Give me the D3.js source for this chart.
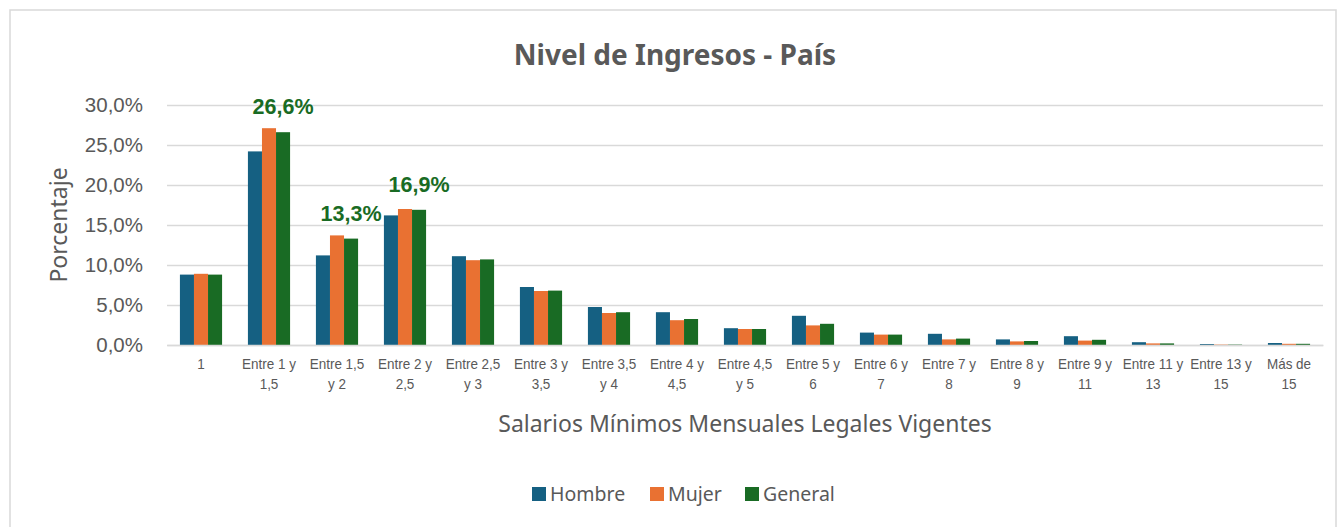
<!DOCTYPE html>
<html>
<head>
<meta charset="utf-8">
<script src="https://cdn.jsdelivr.net/npm/d3@7"></script>
<style>
  body { margin: 0; background: #fff; }
  svg { display: block; }
</style>
</head>
<body>
<div id="chart"></div>
<script>
// categorías del eje x (en dos líneas, como en el original)
const categories = [
  "1", "Entre 1 y 1,5", "Entre 1,5 y 2", "Entre 2 y 2,5", "Entre 2,5 y 3",
  "Entre 3 y 3,5", "Entre 3,5 y 4", "Entre 4 y 4,5", "Entre 4,5 y 5",
  "Entre 5 y 6", "Entre 6 y 7", "Entre 7 y 8", "Entre 8 y 9",
  "Entre 9 y 11", "Entre 11 y 13", "Entre 13 y 15", "Más de 15"
];
const tickLines = [
  ["1"], ["Entre 1 y", "1,5"], ["Entre 1,5", "y 2"], ["Entre 2 y", "2,5"],
  ["Entre 2,5", "y 3"], ["Entre 3 y", "3,5"], ["Entre 3,5", "y 4"],
  ["Entre 4 y", "4,5"], ["Entre 4,5", "y 5"], ["Entre 5 y", "6"],
  ["Entre 6 y", "7"], ["Entre 7 y", "8"], ["Entre 8 y", "9"],
  ["Entre 9 y", "11"], ["Entre 11 y", "13"], ["Entre 13 y", "15"], ["Más de", "15"]
];
const series = ["Hombre", "Mujer", "General"];
const hombre  = [8.8, 24.2, 11.2, 16.2, 11.1, 7.25, 4.75, 4.1, 2.1, 3.65, 1.55, 1.4, 0.7, 1.1, 0.35, 0.12, 0.25];
const mujer   = [8.9, 27.1, 13.7, 17.0, 10.6, 6.75, 4.0, 3.1, 2.0, 2.45, 1.3, 0.7, 0.45, 0.55, 0.2, 0.05, 0.15];
const general = [8.8, 26.6, 13.3, 16.9, 10.7, 6.8, 4.1, 3.25, 2.0, 2.65, 1.3, 0.8, 0.5, 0.65, 0.2, 0.05, 0.15];
const yTicks = [0, 5, 10, 15, 20, 25, 30];
// etiquetas de datos que se muestran en la serie General
const labeled = ["Entre 1 y 1,5", "Entre 1,5 y 2", "Entre 2 y 2,5"];

const colors = { Hombre: "#156082", Mujer: "#E97132", General: "#196B24" };
const values = { Hombre: hombre, Mujer: mujer, General: general };

const W = 1338, H = 527;
const margin = { top: 105, right: 15, bottom: 182, left: 167 };
const width = W - margin.left - margin.right;
const height = H - margin.top - margin.bottom;

const fmt = v => v.toFixed(1).replace(".", ",") + "%";

const svg = d3.select("#chart").append("svg")
  .attr("width", W)
  .attr("height", H);

// borde del área del gráfico
svg.append("rect")
  .attr("x", 10).attr("y", 10)
  .attr("width", W - 12).attr("height", H + 20)
  .attr("fill", "#fff")
  .attr("stroke", "#d9d9d9")
  .attr("stroke-width", 1.5);

const g = svg.append("g")
  .attr("transform", `translate(${margin.left},${margin.top})`);

const x = d3.scaleBand()
  .domain(categories)
  .range([0, width])
  .paddingInner(0.38)
  .paddingOuter(0.19);

const xSub = d3.scaleBand()
  .domain(series)
  .range([0, x.bandwidth()]);

const y = d3.scaleLinear()
  .domain([0, 30])
  .range([height, 0]);

// líneas de cuadrícula
g.append("g")
  .call(d3.axisLeft(y).tickValues(yTicks).tickSize(-width).tickFormat(""))
  .call(a => a.select(".domain").remove())
  .selectAll("line")
  .attr("stroke", "#d9d9d9")
  .attr("stroke-width", 1.5);

// etiquetas del eje y
g.append("g")
  .call(d3.axisLeft(y).tickValues(yTicks).tickSize(0).tickPadding(24).tickFormat(fmt))
  .call(a => a.select(".domain").remove())
  .selectAll("text")
  .attr("fill", "#595959")
  .style("font-family", "'Liberation Sans', Arial, sans-serif")
  .style("font-size", "20.5px");

// barras
const groups = g.selectAll(".grp")
  .data(categories)
  .enter().append("g")
  .attr("class", "grp")
  .attr("transform", d => `translate(${x(d)},0)`);

groups.selectAll("rect")
  .data((c, i) => series.map(s => ({ s, c, v: values[s][i] })))
  .enter().append("rect")
  .attr("x", d => xSub(d.s))
  .attr("y", d => y(d.v))
  .attr("width", xSub.bandwidth())
  .attr("height", d => height - y(d.v))
  .attr("fill", d => colors[d.s]);

// etiquetas de datos
groups.filter(c => labeled.includes(c))
  .append("text")
  .attr("x", xSub("General") + xSub.bandwidth() / 2)
  .attr("y", c => y(general[categories.indexOf(c)]) - 18)
  .attr("text-anchor", "middle")
  .attr("fill", "#196B24")
  .style("font-family", "'Liberation Sans', Arial, sans-serif")
  .style("font-weight", "bold")
  .style("font-size", "21.5px")
  .text(c => fmt(general[categories.indexOf(c)]));

// eje x
const xAxis = g.append("g")
  .attr("transform", `translate(0,${height})`)
  .call(d3.axisBottom(x).tickSize(0).tickFormat(""));
xAxis.select(".domain").attr("stroke", "#d9d9d9").attr("stroke-width", 1.5);

xAxis.selectAll(".tick").each(function(c, i) {
  const t = d3.select(this).append("text")
    .attr("text-anchor", "middle")
    .attr("transform", "scale(0.9,1)")
    .attr("fill", "#595959")
    .style("font-family", "'Liberation Sans', Arial, sans-serif")
    .style("font-size", "15px");
  tickLines[i].forEach((line, j) => {
    t.append("tspan").attr("x", 0).attr("y", 24 + j * 20).text(line);
  });
});

// título del eje x
svg.append("text")
  .attr("x", margin.left + width / 2)
  .attr("y", 432)
  .attr("text-anchor", "middle")
  .attr("fill", "#595959")
  .style("font-family", "'Noto Sans', sans-serif")
  .style("font-size", "23px")
  .text("Salarios Mínimos Mensuales Legales Vigentes");

// título del eje y
svg.append("text")
  .attr("transform", `translate(67,${margin.top + height / 2}) rotate(-90)`)
  .attr("text-anchor", "middle")
  .attr("fill", "#595959")
  .style("font-family", "'Noto Sans', sans-serif")
  .style("font-size", "23px")
  .text("Porcentaje");

// título
svg.append("text")
  .attr("x", 675)
  .attr("y", 65)
  .attr("text-anchor", "middle")
  .attr("fill", "#595959")
  .style("font-family", "'Noto Sans', sans-serif")
  .style("font-weight", "bold")
  .style("font-size", "28px")
  .text("Nivel de Ingresos - País");

// leyenda
const legendX = [532, 650, 745];
const legend = svg.append("g");
series.forEach((s, i) => {
  const lg = legend.append("g").attr("transform", `translate(${legendX[i]},487)`);
  lg.append("rect").attr("width", 14).attr("height", 14).attr("fill", colors[s]);
  lg.append("text")
    .attr("x", 18).attr("y", 14)
    .attr("fill", "#595959")
    .style("font-family", "'Noto Sans', sans-serif")
    .style("font-size", "19.5px")
    .text(s);
});
</script>
</body>
</html>
